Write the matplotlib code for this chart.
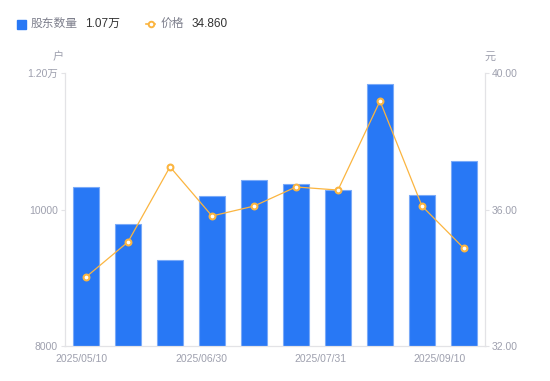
import matplotlib.pyplot as plt
import numpy as np
from matplotlib.lines import Line2D
from matplotlib.patches import Rectangle

plt.rcParams['font.family'] = ['Liberation Sans', 'Noto Sans CJK SC']

# dati
azionisti = [10330, 9790, 9260, 10200, 10430, 10370, 10290, 11840, 10210, 10710]
prezzo = [34.02, 35.05, 37.25, 35.81, 36.10, 36.66, 36.57, 39.18, 36.10, 34.86]
etichette_x = ["2025/05/10", "2025/06/30", "2025/07/31", "2025/09/10"]

blu = "#2878F5"
arancio = "#FBB540"
grigio = "#9EA0AE"
linea_asse = "#E3E3E6"

fig = plt.figure(figsize=(5.5, 3.81), dpi=100)
ax = fig.add_axes([65/550, 35/381, 420/550, 273/381])
ax2 = ax.twinx()

x = np.arange(len(azionisti))
ax.bar(x, azionisti, width=0.6, color=blu, edgecolor="#7AAAF8", linewidth=0.8, zorder=2)
ax.set_xlim(-0.5, len(x) - 0.5)
ax.set_ylim(8000, 12000)
ax.set_yticks([8000, 10000, 12000])
ax.set_yticklabels(["8000", "10000", "1.20万"])

ax2.plot(x, prezzo, color=arancio, linewidth=0.9, marker="o", markersize=4.2,
         markerfacecolor="white", markeredgecolor=arancio, markeredgewidth=1.5, zorder=3)
ax2.set_ylim(32, 40)
ax2.set_yticks([32, 36, 40])
ax2.set_yticklabels(["32.00", "36.00", "40.00"])

# etichette asse x (posizioni come nel riferimento)
ax.set_xticks(np.linspace(-0.1, 8.43, 4))
ax.set_xticklabels(etichette_x)

for a in (ax, ax2):
    for s in a.spines.values():
        s.set_color(linea_asse)
    a.spines['top'].set_visible(False)
    a.tick_params(axis='y', colors=linea_asse, labelcolor=grigio, labelsize=7.5, length=3, pad=2)
    a.tick_params(axis='x', length=0, labelcolor=grigio, labelsize=7.5, pad=6)

# unità
fig.text(58/550, 1 - 57/381, "户", color=grigio, fontsize=8, ha="center", va="center")
fig.text(490/550, 1 - 57/381, "元", color=grigio, fontsize=8, ha="center", va="center")

# legenda
fig.add_artist(Rectangle((17/550, 1 - 28.5/381), 9/550, 9/381, color=blu, transform=fig.transFigure))
fig.text(31/550, 1 - 24/381, "股东数量", color="#7D7F8C", fontsize=8.5, va="center")
fig.text(85/550, 1 - 24/381, "1.07万", color="#333333", fontsize=8.5, va="center")
fig.add_artist(Line2D([146/550, 155/550], [1 - 24/381, 1 - 24/381], color=arancio, linewidth=1.2,
                      transform=fig.transFigure))
fig.add_artist(Line2D([150.5/550], [1 - 24/381], marker="o", markersize=4, markerfacecolor="white",
                      markeredgecolor=arancio, markeredgewidth=1.4, transform=fig.transFigure))
fig.text(161/550, 1 - 24/381, "价格", color="#7D7F8C", fontsize=8.5, va="center")
fig.text(192/550, 1 - 24/381, "34.860", color="#333333", fontsize=8.5, va="center")

fig.savefig("out.png", dpi=100)
